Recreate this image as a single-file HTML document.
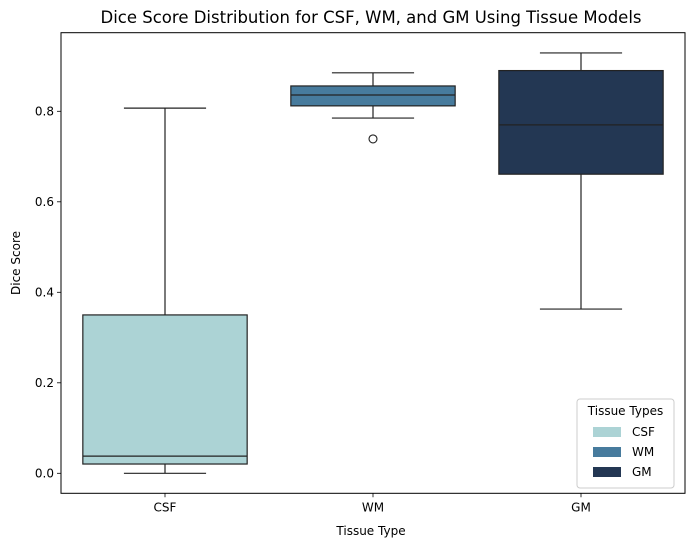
<!DOCTYPE html>
<html><head><meta charset="utf-8"><style>
body{margin:0;background:#fff;font-family:"Liberation Sans","DejaVu Sans",sans-serif}
svg text{font-family:"DejaVu Sans","Liberation Sans",sans-serif}
</style></head><body>
<svg id="chart" width="691" height="547" xmlns="http://www.w3.org/2000/svg">
<text x="371" y="23" text-anchor="middle" font-size="16.5" fill="#000">Dice Score Distribution for CSF, WM, and GM Using Tissue Models</text>
<g id="plot"></g>
<text x="371" y="535" text-anchor="middle" font-size="12">Tissue Type</text>
<text transform="translate(20,263) rotate(-90)" text-anchor="middle" font-size="12">Dice Score</text>
</svg>
<script>
const categories=["CSF","WM","GM"];
const colors=["#acd3d5","#477b9d","#233753"];
const whiskLow=[0.0,0.785,0.363];
const q1=[0.0205,0.812,0.661];
const median=[0.038,0.836,0.77];
const q3=[0.35,0.856,0.89];
const whiskHigh=[0.807,0.885,0.929];
const outliers=[[],[0.739],[]];
const yTicks=[0.0,0.2,0.4,0.6,0.8];

const L=61,R=685,T=32.7,B=493.3,yMin=-0.0442,yMax=0.9737;
const NS="http://www.w3.org/2000/svg";
const g=document.getElementById('plot');
function y(v){return B-(v-yMin)/(yMax-yMin)*(B-T);}
const band=(R-L)/categories.length;
function xc(i){return L+band*(i+0.5);}
function mk(tag,attrs,parent){const e=document.createElementNS(NS,tag);for(const k in attrs)e.setAttribute(k,attrs[k]);(parent||g).appendChild(e);return e;}
const bw=band*0.79;
categories.forEach((c,i)=>{
  const grp=mk('g',{});
  
  
  const x=xc(i);
  mk('line',{x1:x,x2:x,y1:y(whiskLow[i]),y2:y(q1[i]),stroke:'#222','stroke-width':1.2},grp);
  mk('line',{x1:x,x2:x,y1:y(q3[i]),y2:y(whiskHigh[i]),stroke:'#222','stroke-width':1.2},grp);
  mk('line',{x1:x-bw/4,x2:x+bw/4,y1:y(whiskLow[i]),y2:y(whiskLow[i]),stroke:'#222','stroke-width':1.2},grp);
  mk('line',{x1:x-bw/4,x2:x+bw/4,y1:y(whiskHigh[i]),y2:y(whiskHigh[i]),stroke:'#222','stroke-width':1.2},grp);
  mk('rect',{x:x-bw/2,y:y(q3[i]),width:bw,height:y(q1[i])-y(q3[i]),fill:colors[i],stroke:'#222','stroke-width':1.2},grp);
  mk('line',{x1:x-bw/2,x2:x+bw/2,y1:y(median[i]),y2:y(median[i]),stroke:'#222','stroke-width':1.2},grp);
  outliers[i].forEach(o=>{const ci=mk('circle',{cx:x,cy:y(o),r:4,fill:'none',stroke:'#222','stroke-width':1.1},grp);
    
    });
  mk('line',{x1:x,x2:x,y1:B,y2:B+4,stroke:'#000','stroke-width':0.8});
  const t=mk('text',{x:x,y:B+18,'text-anchor':'middle','font-size':12});t.textContent=c;
  
  
});
yTicks.forEach(v=>{
  mk('line',{x1:L-4,x2:L,y1:y(v),y2:y(v),stroke:'#000','stroke-width':0.8});
  const t=mk('text',{x:L-7,y:y(v)+4,'text-anchor':'end','font-size':12});t.textContent=v.toFixed(1);
  
  
});
const fr=mk('rect',{x:L,y:T,width:R-L,height:B-T,fill:'none',stroke:'#000','stroke-width':1});


const lg=mk('g',{});


mk('rect',{x:577,y:399,width:97,height:89,rx:3,fill:'#fff','fill-opacity':0.8,stroke:'#ccc'},lg);
const lt=mk('text',{x:625.5,y:415,'text-anchor':'middle','font-size':12},lg);lt.textContent='Tissue Types';
categories.forEach((c,i)=>{
  const yy=431+i*20;
  const e=mk('g',{},lg);
  
  
  mk('rect',{x:593,y:yy-4,width:28,height:10,fill:colors[i]},e);
  const t=mk('text',{x:632,y:yy+5,'font-size':12},e);t.textContent=c;
});
</script>
</body></html>
